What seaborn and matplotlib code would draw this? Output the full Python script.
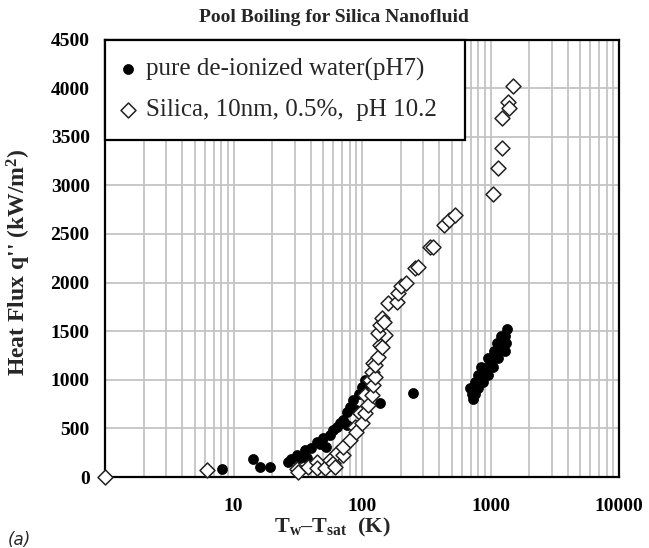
import numpy as np
import pandas as pd
import matplotlib
matplotlib.use("Agg")
import matplotlib.pyplot as plt
import seaborn as sns
from matplotlib.ticker import FixedLocator, NullFormatter

sns.set_theme(style="white")
plt.rcParams['font.family'] = ['Liberation Serif', 'DejaVu Serif']
plt.rcParams['mathtext.fontset'] = 'custom'
plt.rcParams['mathtext.rm'] = 'Liberation Serif'
plt.rcParams['mathtext.bf'] = 'Liberation Serif:bold'
plt.rcParams['mathtext.it'] = 'Liberation Serif:italic'

# ---------------- data ----------------
water_x = [8.1, 14.3, 16, 19.2, 26.7, 28, 31, 33, 36, 37, 40, 44.5, 47, 50, 52.7,
           56, 59.5, 63.5, 67, 71.6, 76, 76, 80, 85.5, 90.6, 95, 99.5, 102, 105.5,
           138, 248,
           735, 720, 760, 690, 740, 800, 760, 820, 880, 800, 870, 960,
           850, 950, 1050, 950, 1050, 1150, 1060, 1180, 1300, 1120, 1220, 1330,
           1200, 1300, 1350]
water_y = [80, 182, 106, 106, 158, 190, 226, 200, 278, 192, 300, 363, 340, 398, 312,
           430, 484, 518, 560, 586, 672, 535, 720, 792, 689, 850, 929, 912, 998,
           758, 867,
           800, 850, 850, 912, 912, 912, 980, 980, 980, 1050, 1050, 1050,
           1135, 1135, 1135, 1220, 1220, 1220, 1300, 1300, 1300, 1380, 1380, 1380,
           1450, 1450, 1520]

silica_x = [1, 6.2, 31, 32, 38, 44.5, 45, 51.4, 56, 59.5, 61.6, 63.5, 71, 71.6, 81,
            88, 90.6, 96.5, 99.5, 105.5, 105.5, 112, 115, 119, 119, 122, 122, 126,
            126, 134, 138, 142, 150, 134, 138, 142, 147, 160, 186, 192, 200, 220,
            258, 274, 337, 359, 435, 478, 529, 1051, 1150, 1222, 1222, 1376, 1402,
            1489]
silica_y = [0, 70, 79, 55, 106, 158, 90, 89, 175, 141, 106, 244, 226, 312, 380,
            518, 466, 655, 552, 655, 844, 741, 998, 844, 1083, 946, 1170, 1032,
            1152, 1238, 1358, 1340, 1461, 1478, 1564, 1633, 1598, 1787, 1800, 1890,
            1960, 2000, 2150, 2164, 2370, 2370, 2593, 2644, 2695, 2912, 3182, 3381,
            3690, 3861, 3793, 4026]

series_names = ["pure de-ionized water(pH7)", "Silica, 10nm, 0.5%,  pH 10.2"]
x_ticks = [1, 10, 100, 1000, 10000]
x_tick_labels = ["", "10", "100", "1000", "10000"]
y_ticks = [0, 500, 1000, 1500, 2000, 2500, 3000, 3500, 4000, 4500]

df = pd.DataFrame({
    "x": water_x + silica_x,
    "y": water_y + silica_y,
    "series": [series_names[0]] * len(water_x) + [series_names[1]] * len(silica_x),
})

# ---------------- figure ----------------
fig = plt.figure(figsize=(6.49, 5.48), dpi=100)
ax = fig.add_axes([105/649, 1-477/548, (619-105)/649, (477-39.5)/548])

ax.set_xscale("log")
ax.set_xlim(1, 10000)
ax.set_ylim(0, 4500)

# grid
ax.xaxis.set_major_locator(FixedLocator(x_ticks))
minor = [m * 10**e for e in range(0, 4) for m in range(2, 10)]
ax.xaxis.set_minor_locator(FixedLocator(minor))
ax.xaxis.set_minor_formatter(NullFormatter())
ax.set_yticks(y_ticks)
ax.grid(True, which="both", axis="x", color="#c4c4c4", linewidth=1.3)
ax.grid(True, which="major", axis="y", color="#c4c4c4", linewidth=1.3)
ax.set_axisbelow(True)

sns.scatterplot(data=df[df.series == series_names[0]], x="x", y="y", ax=ax,
                marker="o", color="black", edgecolor="black", s=52, linewidth=0.5,
                label=series_names[0], zorder=3, clip_on=False)
sns.scatterplot(data=df[df.series == series_names[1]], x="x", y="y", ax=ax,
                marker="D", facecolor="white", edgecolor="#222222", s=58, linewidth=1.1,
                label=series_names[1], zorder=4, clip_on=False)

for sp in ax.spines.values():
    sp.set_color("black")
    sp.set_linewidth(1.6)

ax.set_xticklabels(x_tick_labels)
ax.tick_params(axis="x", which="major", direction="out", length=6, width=1.4,
               colors="black", labelsize=14, pad=9)
ax.tick_params(axis="x", which="minor", length=0)
ax.tick_params(axis="y", direction="out", length=5, width=1.4, colors="black",
               labelsize=14, pad=6)
for lab in ax.get_xticklabels() + ax.get_yticklabels():
    lab.set_fontweight("bold")

ax.set_xlabel("T$_\\mathbf{w}$–T$_\\mathbf{sat}$  (K)", fontsize=16, fontweight="bold")
ax.xaxis.set_label_coords((332-105)/514, -0.088)
ax.set_ylabel("Heat Flux q'' (kW/m$^\\mathbf{2}$)", fontsize=17, fontweight="bold")
ax.yaxis.set_label_coords(-0.14, 0.49)

fig.text(334/649, 1-18/548, "Pool Boiling for Silica Nanofluid", ha="center",
         va="center", fontsize=14, fontweight="bold")
fig.text(8/649, 1-540/548, "(a)", ha="left", va="center", fontsize=12,
         style="italic", family=["DejaVu Sans"])

leg_h = (137-39.5)/437.5
leg = ax.legend(loc="upper left", bbox_to_anchor=(0.0, 1.0 - leg_h, (465-105)/514, leg_h),
                mode="expand", borderaxespad=0,
                frameon=True, fancybox=False, fontsize=18, handletextpad=0.6,
                borderpad=0.75, labelspacing=0.7, handlelength=0.3)
leg.get_frame().set_edgecolor("black")
leg.get_frame().set_linewidth(1.6)
leg.get_frame().set_alpha(1)
leg.set_zorder(10)

fig.savefig("out.png", dpi=100)
